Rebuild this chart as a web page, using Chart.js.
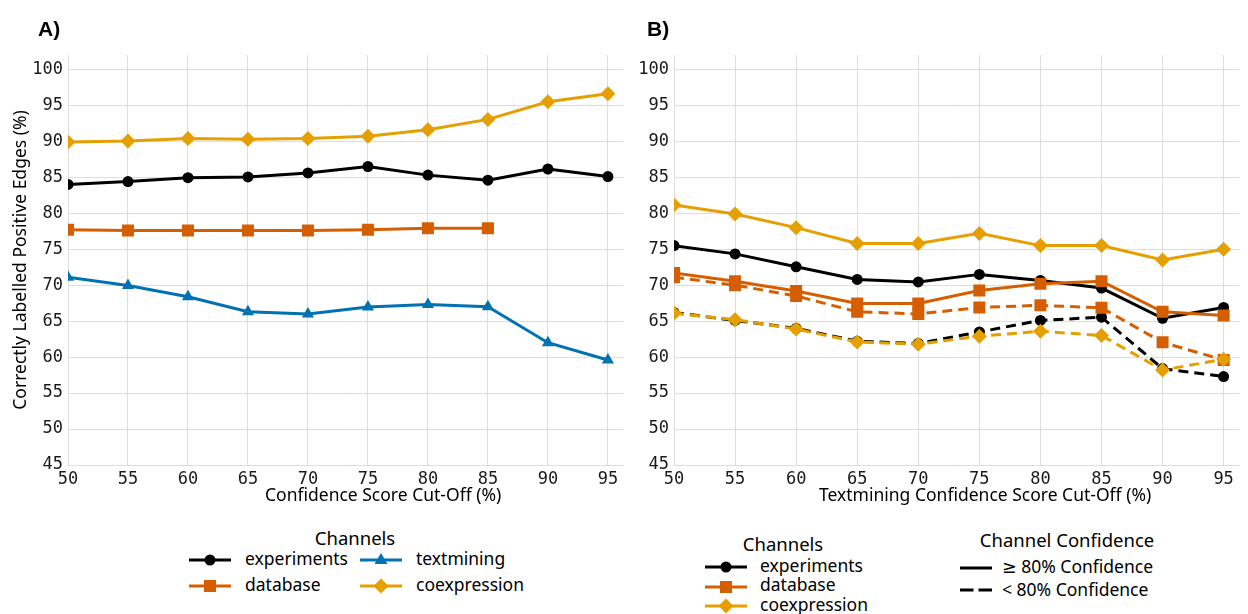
<!DOCTYPE html>
<html>
<head>
<meta charset="utf-8">
<script src="https://cdn.jsdelivr.net/npm/chart.js@4/dist/chart.umd.min.js"></script>
<style>
  body { margin: 0; background: #fff; width: 1248px; height: 614px; position: relative; overflow: hidden;
         font-family: "Noto Sans", "DejaVu Sans", sans-serif; color: #000; }
  .abs { position: absolute; line-height: 1; white-space: nowrap; transform: translateY(-50%); }
  .panel { font-weight: bold; font-size: 21px; font-family: "Liberation Sans", "Noto Sans", sans-serif; }
  .axtitle { font-size: 17.5px; }
  .ltitle { font-size: 18.5px; }
  .ltext { font-size: 17.5px; }
  .cc { transform: translate(-50%, -50%); }
  svg.abs { transform: translateY(-50%); }
</style>
</head>
<body>
<div style="position:absolute;left:0;top:0;width:632px;height:500px"><canvas id="chartA" width="632" height="500"></canvas></div>
<div style="position:absolute;left:630px;top:0;width:618px;height:500px"><canvas id="chartB" width="618" height="500"></canvas></div>

<div class="abs panel" style="left:38px;top:28px">A)</div>
<div class="abs panel" style="left:647px;top:28px">B)</div>
<div class="abs axtitle" style="left:265px;top:495px">Confidence Score Cut-Off (%)</div>
<div class="abs axtitle" style="left:819px;top:495px">Textmining Confidence Score Cut-Off (%)</div>

<div id="legends"></div>

<script>
// x values (cut-offs) shared by both panels
const cutoffs = [50, 55, 60, 65, 70, 75, 80, 85, 90, 95];
const xTicks = [50, 55, 60, 65, 70, 75, 80, 85, 90, 95];
const yTicks = [45, 50, 55, 60, 65, 70, 75, 80, 85, 90, 95, 100];

// panel A
const aExperiments = [84.0, 84.4, 84.95, 85.05, 85.6, 86.5, 85.3, 84.6, 86.15, 85.1];
const aDatabase = [77.7, 77.6, 77.6, 77.6, 77.6, 77.7, 77.9, 77.9, null, null];
const aTextmining = [71.1, 69.95, 68.4, 66.3, 66.0, 66.95, 67.3, 67.0, 62.0, 59.6];
const aCoexpression = [89.9, 90.05, 90.4, 90.3, 90.4, 90.7, 91.6, 93.05, 95.5, 96.6];

// panel B, >= 80% confidence (solid) and < 80% confidence (dashed)
const bExpHigh = [75.5, 74.35, 72.55, 70.8, 70.45, 71.5, 70.65, 69.6, 65.4, 66.9];
const bDbHigh = [71.7, 70.55, 69.2, 67.45, 67.45, 69.25, 70.2, 70.55, 66.3, 65.8];
const bCoexHigh = [81.15, 79.9, 78.0, 75.8, 75.8, 77.2, 75.5, 75.5, 73.5, 75.0];
const bExpLow = [66.2, 65.1, 64.0, 62.2, 61.9, 63.5, 65.1, 65.55, 58.4, 57.3];
const bDbLow = [71.1, 70.0, 68.5, 66.3, 66.0, 66.9, 67.2, 66.85, 62.05, 59.6];
const bCoexLow = [66.1, 65.2, 63.9, 62.1, 61.8, 62.9, 63.6, 63.0, 58.2, 59.7];

const colors = {
    experiments: '#000000',
    database: '#D55E00',
    textmining: '#0072B2',
    coexpression: '#E69F00'
};
const markers = {
    experiments: { style: 'circle', r: 5.5 },
    database: { style: 'rect', r: 8.5 },
    textmining: { style: 'triangle', r: 7 },
    coexpression: { style: 'rectRot', r: 7.5 }
};

function pts(values) {
    return cutoffs.map((x, i) => ({ x: x, y: values[i] }));
}

function series(channel, values, dashed) {
    return {
        label: channel,
        data: pts(values),
        borderColor: colors[channel],
        backgroundColor: colors[channel],
        borderWidth: 3,
        borderDash: dashed ? [10, 6] : [],
        pointStyle: markers[channel].style,
        pointRadius: markers[channel].r,
        pointBorderWidth: 0,
        tension: 0,
        spanGaps: false
    };
}

const tickFont = { family: '"DejaVu Sans Mono", monospace', size: 17 };
const gridColor = '#dedede';

function makeOptions(yWidth, padRight, yTitle) {
    return {
        responsive: false,
        animation: false,
        layout: { padding: { top: 55, right: padRight, bottom: 0, left: 0 } },
        plugins: { legend: { display: false }, tooltip: { enabled: false } },
        scales: {
            x: {
                type: 'linear', min: 50, max: 96.3,
                afterBuildTicks: function (scale) { scale.ticks = xTicks.map(v => ({ value: v })); },
                afterFit: function (scale) { scale.height = 35; },
                grid: { color: gridColor, lineWidth: 1, drawTicks: false },
                border: { display: false },
                ticks: { font: tickFont, color: '#1a1a1a', padding: 4, maxRotation: 0 }
            },
            y: {
                type: 'linear', min: 45, max: 102,
                afterBuildTicks: function (scale) { scale.ticks = yTicks.map(v => ({ value: v })); },
                afterFit: function (scale) { scale.width = yWidth; },
                grid: { color: gridColor, lineWidth: 1, drawTicks: false },
                border: { display: false },
                ticks: { font: tickFont, color: '#1a1a1a', padding: 5 },
                title: yTitle ? {
                    display: true, text: yTitle, color: '#000',
                    font: { family: '"Noto Sans", sans-serif', size: 17.5 },
                    padding: { top: 11, bottom: 0 }
                } : { display: false }
            }
        }
    };
}

new Chart(document.getElementById('chartA'), {
    type: 'line',
    data: {
        datasets: [
            series('coexpression', aCoexpression, false),
            series('experiments', aExperiments, false),
            series('database', aDatabase, false),
            series('textmining', aTextmining, false)
        ]
    },
    options: makeOptions(68, 2, 'Correctly Labelled Positive Edges (%)')
});

new Chart(document.getElementById('chartB'), {
    type: 'line',
    data: {
        datasets: [
            series('coexpression', bCoexHigh, false),
            series('database', bDbHigh, false),
            series('experiments', bExpHigh, false),
            series('coexpression', bCoexLow, true),
            series('database', bDbLow, true),
            series('experiments', bExpLow, true)
        ]
    },
    options: makeOptions(44, 1, null)
});

// legends (html + small svg keys)
function markerSvg(channel, len) {
    const c = colors[channel];
    const m = len / 2;
    let shape = '';
    if (channel === 'experiments') shape = '<circle cx="' + m + '" cy="10" r="5.5" fill="' + c + '"/>';
    if (channel === 'database') shape = '<rect x="' + (m - 6) + '" y="4" width="12" height="12" fill="' + c + '"/>';
    if (channel === 'textmining') shape = '<polygon points="' + m + ',3 ' + (m + 6.5) + ',14 ' + (m - 6.5) + ',14" fill="' + c + '"/>';
    if (channel === 'coexpression') shape = '<polygon points="' + m + ',2.5 ' + (m + 7.5) + ',10 ' + m + ',17.5 ' + (m - 7.5) + ',10" fill="' + c + '"/>';
    return '<line x1="0" y1="10" x2="' + len + '" y2="10" stroke="' + c + '" stroke-width="3"/>' + shape;
}

function key(channel, x, y, len) {
    return '<svg class="abs" style="left:' + x + 'px;top:' + y + 'px" width="' + len + '" height="20">' + markerSvg(channel, len) + '</svg>';
}

function label(text, x, y, cls) {
    return '<div class="abs ' + cls + '" style="left:' + x + 'px;top:' + y + 'px">' + text + '</div>';
}

let html = '';
// legend A
html += '<div class="abs ltitle cc" style="left:355px;top:538px">Channels</div>';
html += key('experiments', 189, 560, 42) + label('experiments', 245, 559, 'ltext');
html += key('textmining', 360, 560, 42) + label('textmining', 416, 559, 'ltext');
html += key('database', 189, 586, 42) + label('database', 245, 585, 'ltext');
html += key('coexpression', 360, 586, 42) + label('coexpression', 416, 585, 'ltext');
// legend B channels
html += '<div class="abs ltitle cc" style="left:783px;top:544px">Channels</div>';
html += key('experiments', 705, 567, 42) + label('experiments', 760, 566, 'ltext');
html += key('database', 705, 587, 42) + label('database', 760, 585, 'ltext');
html += key('coexpression', 705, 606, 42) + label('coexpression', 760, 605, 'ltext');
// legend B confidence
html += '<div class="abs ltitle cc" style="left:1067px;top:540px">Channel Confidence</div>';
html += '<svg class="abs" style="left:960px;top:568px" width="32" height="20"><line x1="0" y1="10" x2="32" y2="10" stroke="#000" stroke-width="3"/></svg>';
html += label('\u2265 80% Confidence', 1002, 567, 'ltext');
html += '<svg class="abs" style="left:960px;top:590px" width="32" height="20"><line x1="0" y1="10" x2="32" y2="10" stroke="#000" stroke-width="3" stroke-dasharray="13.5 5"/></svg>';
html += label('&lt; 80% Confidence', 1002, 590, 'ltext');
document.getElementById('legends').innerHTML = html;
</script>
</body>
</html>
